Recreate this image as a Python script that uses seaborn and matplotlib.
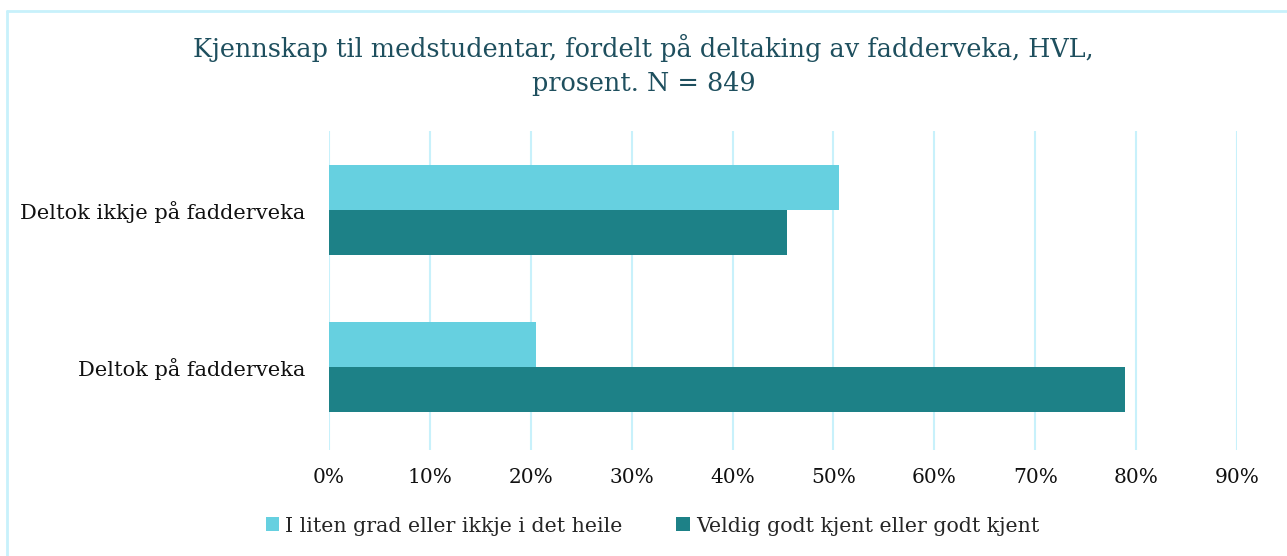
#!/usr/bin/env python3
"""Horizontal grouped bar chart: kjennskap til medstudentar etter deltaking
på fadderveka (HVL)."""

import matplotlib.pyplot as plt
import pandas as pd
import seaborn as sns
from matplotlib.lines import Line2D
from matplotlib.patches import Patch
from matplotlib.ticker import FuncFormatter

sns.set_theme(style="white")
plt.rcParams['font.family'] = ['DejaVu Serif']

CATEGORIES = ["Deltok ikkje på fadderveka", "Deltok på fadderveka"]
SERIES = ["I liten grad eller ikkje i det heile",
          "Veldig godt kjent eller godt kjent"]
LOW = [50.6, 20.5]
HIGH = [45.4, 78.9]
TICKS = [0, 10, 20, 30, 40, 50, 60, 70, 80, 90]

COLORS = ["#66D0E0", "#1D8187"]
GRID = "#C8F1FB"
TITLE_COLOR = "#1E4F5E"

df = pd.DataFrame({
    "category": CATEGORIES * 2,
    "series": [SERIES[0]] * 2 + [SERIES[1]] * 2,
    "value": LOW + HIGH,
})

fig = plt.figure(figsize=(12.87, 5.56), dpi=100)
ax = fig.add_axes([329/1287, 1 - 450/556, 908/1287, 319/556])

sns.barplot(data=df, y="category", x="value", hue="series", orient="h",
            palette=COLORS, width=0.573, ax=ax, legend=False, saturation=1,
            linewidth=0)

# Axes styling
ax.set(xlim=(0, 90), ylim=(1.528, -0.503), xlabel="", ylabel="")
ax.set_xticks(TICKS)
ax.xaxis.set_major_formatter(FuncFormatter(lambda v, _: f"{v:.0f}%"))
ax.grid(axis="x", color=GRID, linewidth=1.5)
ax.grid(axis="y", visible=False)
ax.set_axisbelow(True)
for s in ax.spines.values():
    s.set_visible(False)
ax.tick_params(axis="x", length=0, pad=13, labelsize=14.5, labelcolor="#111111")
ax.tick_params(axis="y", length=0, pad=17, labelsize=15, labelcolor="#111111")

# Title
fig.text(0.5, 1 - 48/556, "Kjennskap til medstudentar, fordelt på deltaking av fadderveka, HVL,",
         ha="center", va="center", fontsize=18.4, color=TITLE_COLOR)
fig.text(0.5, 1 - 84/556, "prosent. N = 849",
         ha="center", va="center", fontsize=18.4, color=TITLE_COLOR)

# Legend
handles = [Patch(facecolor=c, edgecolor="none") for c in COLORS]
fig.legend(handles, SERIES, loc="center", bbox_to_anchor=(0.507, 1 - 526/556),
           ncol=2, frameon=False, fontsize=14.8, handlelength=0.65,
           handleheight=0.65, handletextpad=0.3, columnspacing=2.6)

# Light border (left and top edges)
fig.add_artist(Line2D([7/1287, 7/1287], [0, 1 - 11/556], color=GRID,
                      linewidth=2, transform=fig.transFigure))
fig.add_artist(Line2D([7/1287, 1], [1 - 11/556, 1 - 11/556], color=GRID,
                      linewidth=2, transform=fig.transFigure))

fig.savefig("out.png", dpi=100, facecolor="white")
